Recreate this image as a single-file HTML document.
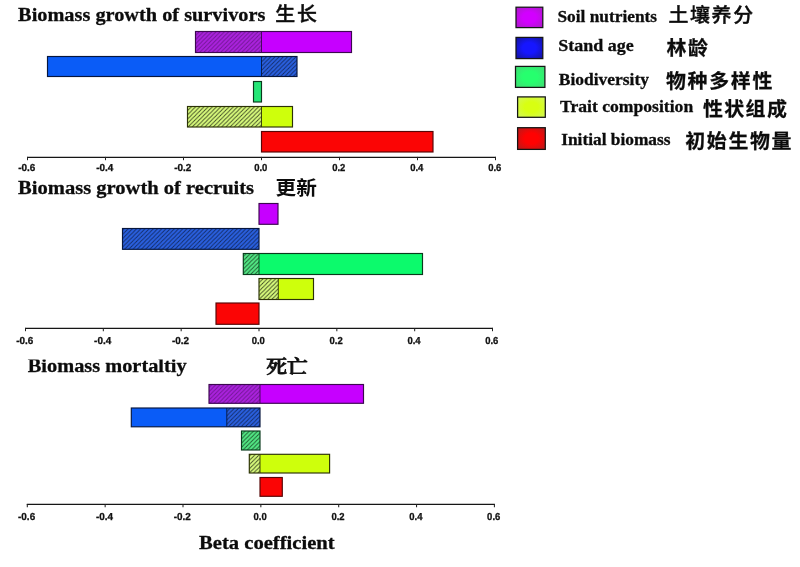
<!DOCTYPE html>
<html lang="en"><head><meta charset="utf-8"><title>Beta coefficients</title>
<style>html,body{margin:0;padding:0;background:#fff}body{width:800px;height:567px;overflow:hidden}svg{display:block}.t{font-family:"Liberation Serif","Noto Serif CJK SC",serif;font-weight:700;fill:#0c0c0c;stroke:#0c0c0c;stroke-width:0.3px}.c{font-family:"Liberation Sans","Noto Sans CJK SC",sans-serif;font-weight:700;fill:#0c0c0c;stroke:#0c0c0c;stroke-width:0.25px}.k{font-family:"Liberation Sans",sans-serif;font-weight:700;font-size:10.1px;text-rendering:geometricPrecision;fill:#111;stroke:#111;stroke-width:0.3px;text-anchor:middle}</style></head><body>
<svg width="800" height="567" viewBox="0 0 800 567">
<defs>
<pattern id="hp" width="4.2" height="4.2" patternUnits="userSpaceOnUse"><path d="M-1 5.2L5.2 -1M-1 1L1 -1M3.2 5.2L5.2 3.2" stroke="#000" stroke-opacity="0.34" stroke-width="0.9" fill="none"/></pattern>
<pattern id="hb" width="4.2" height="4.2" patternUnits="userSpaceOnUse"><path d="M-1 5.2L5.2 -1M-1 1L1 -1M3.2 5.2L5.2 3.2" stroke="#000" stroke-opacity="0.55" stroke-width="0.9" fill="none"/></pattern>
<pattern id="hg" width="4.2" height="4.2" patternUnits="userSpaceOnUse"><path d="M-1 5.2L5.2 -1M-1 1L1 -1M3.2 5.2L5.2 3.2" stroke="#000" stroke-opacity="0.62" stroke-width="0.9" fill="none"/></pattern>
<pattern id="hy" width="4.2" height="4.2" patternUnits="userSpaceOnUse"><path d="M-1 5.2L5.2 -1M-1 1L1 -1M3.2 5.2L5.2 3.2" stroke="#000" stroke-opacity="0.7" stroke-width="0.9" fill="none"/></pattern>
<radialGradient id="gp" cx="0.5" cy="0.5" r="0.72"><stop offset="0" stop-color="#d200ff"/><stop offset="0.35" stop-color="#d200ff"/><stop offset="1" stop-color="#a61ec0"/></radialGradient>
<radialGradient id="gb" cx="0.5" cy="0.5" r="0.72"><stop offset="0" stop-color="#1616ff"/><stop offset="0.35" stop-color="#1616ff"/><stop offset="1" stop-color="#141490"/></radialGradient>
<radialGradient id="gg" cx="0.5" cy="0.5" r="0.72"><stop offset="0" stop-color="#26ff6e"/><stop offset="0.35" stop-color="#26ff6e"/><stop offset="1" stop-color="#44d874"/></radialGradient>
<radialGradient id="gy" cx="0.5" cy="0.5" r="0.72"><stop offset="0" stop-color="#d8ff12"/><stop offset="0.35" stop-color="#d8ff12"/><stop offset="1" stop-color="#d2f660"/></radialGradient>
<radialGradient id="gr" cx="0.5" cy="0.5" r="0.72"><stop offset="0" stop-color="#ff0202"/><stop offset="0.35" stop-color="#ff0202"/><stop offset="1" stop-color="#b01c1c"/></radialGradient>
</defs>
<rect width="800" height="567" fill="#fff"/>
<rect x="195.5" y="31.5" width="156.0" height="21.0" fill="#c600ff"/>
<rect x="195.5" y="31.5" width="66.0" height="21.0" fill="#ab22de"/>
<rect x="195.5" y="31.5" width="66.0" height="21.0" fill="url(#hp)"/>
<path d="M261.5 31.5V52.5" stroke="#3c0850" stroke-width="0.9"/>
<rect x="195.5" y="31.5" width="156.0" height="21.0" fill="none" stroke="#3c0850" stroke-width="1.15"/>
<rect x="47.5" y="56.5" width="249.5" height="20.0" fill="#0a5cf7"/>
<rect x="261.5" y="56.5" width="35.5" height="20.0" fill="#2a60e0"/>
<rect x="261.5" y="56.5" width="35.5" height="20.0" fill="url(#hb)"/>
<path d="M261.5 56.5V76.5" stroke="#06163e" stroke-width="0.9"/>
<rect x="47.5" y="56.5" width="249.5" height="20.0" fill="none" stroke="#06163e" stroke-width="1.15"/>
<rect x="253.5" y="81.5" width="8.0" height="20.5" fill="#24e676"/>
<rect x="253.5" y="81.5" width="8.0" height="20.5" fill="none" stroke="#0a3a1c" stroke-width="1.15"/>
<rect x="187.5" y="106.5" width="105.0" height="20.5" fill="#ceff0c"/>
<rect x="187.5" y="106.5" width="74.0" height="20.5" fill="#d8fb7c"/>
<rect x="187.5" y="106.5" width="74.0" height="20.5" fill="url(#hy)"/>
<path d="M261.5 106.5V127" stroke="#2c3206" stroke-width="0.9"/>
<rect x="187.5" y="106.5" width="105.0" height="20.5" fill="none" stroke="#2c3206" stroke-width="1.15"/>
<rect x="261.5" y="131.5" width="171.5" height="20.5" fill="#fb0505"/>
<rect x="261.5" y="131.5" width="171.5" height="20.5" fill="none" stroke="#560606" stroke-width="1.15"/>
<path d="M27.0 157.3H496.0" stroke="#161616" stroke-width="1.25" fill="none"/>
<path d="M27.50 156.9V160.2" stroke="#202020" stroke-width="1.05" fill="none"/>
<text class="k" transform="matrix(1 0 0 1 26.80 171.20000000000002)" x="0" y="0" textLength="17.1" lengthAdjust="spacingAndGlyphs">-0.6</text>
<path d="M105.50 156.9V160.2" stroke="#202020" stroke-width="1.05" fill="none"/>
<text class="k" transform="matrix(1 0 0 1 104.80 171.20000000000002)" x="0" y="0" textLength="17.1" lengthAdjust="spacingAndGlyphs">-0.4</text>
<path d="M183.50 156.9V160.2" stroke="#202020" stroke-width="1.05" fill="none"/>
<text class="k" transform="matrix(1 0 0 1 182.80 171.20000000000002)" x="0" y="0" textLength="17.1" lengthAdjust="spacingAndGlyphs">-0.2</text>
<path d="M261.50 156.9V160.2" stroke="#202020" stroke-width="1.05" fill="none"/>
<text class="k" transform="matrix(1 0 0 1 260.80 171.20000000000002)" x="0" y="0" textLength="13.2" lengthAdjust="spacingAndGlyphs">0.0</text>
<path d="M339.50 156.9V160.2" stroke="#202020" stroke-width="1.05" fill="none"/>
<text class="k" transform="matrix(1 0 0 1 338.80 171.20000000000002)" x="0" y="0" textLength="13.2" lengthAdjust="spacingAndGlyphs">0.2</text>
<path d="M417.50 156.9V160.2" stroke="#202020" stroke-width="1.05" fill="none"/>
<text class="k" transform="matrix(1 0 0 1 416.80 171.20000000000002)" x="0" y="0" textLength="13.2" lengthAdjust="spacingAndGlyphs">0.4</text>
<path d="M495.50 156.9V160.2" stroke="#202020" stroke-width="1.05" fill="none"/>
<text class="k" transform="matrix(1 0 0 1 494.80 171.20000000000002)" x="0" y="0" textLength="13.2" lengthAdjust="spacingAndGlyphs">0.6</text>
<rect x="259" y="203.5" width="19" height="20.80000000000001" fill="#c600ff"/>
<rect x="259" y="203.5" width="19" height="20.80000000000001" fill="none" stroke="#3c0850" stroke-width="1.15"/>
<rect x="122.5" y="228.5" width="136.5" height="20.80000000000001" fill="#0a5cf7"/>
<rect x="122.5" y="228.5" width="136.5" height="20.80000000000001" fill="#2a60e0"/>
<rect x="122.5" y="228.5" width="136.5" height="20.80000000000001" fill="url(#hb)"/>
<rect x="122.5" y="228.5" width="136.5" height="20.80000000000001" fill="none" stroke="#06163e" stroke-width="1.15"/>
<rect x="243.3" y="253.5" width="179.2" height="21.0" fill="#0cfa6c"/>
<rect x="243.3" y="253.5" width="15.699999999999989" height="21.0" fill="#52e884"/>
<rect x="243.3" y="253.5" width="15.699999999999989" height="21.0" fill="url(#hg)"/>
<path d="M259 253.5V274.5" stroke="#0a3a1c" stroke-width="0.9"/>
<rect x="243.3" y="253.5" width="179.2" height="21.0" fill="none" stroke="#0a3a1c" stroke-width="1.15"/>
<rect x="259" y="278.5" width="54.5" height="21.0" fill="#ceff0c"/>
<rect x="259" y="278.5" width="19.30000000000001" height="21.0" fill="#d8fb7c"/>
<rect x="259" y="278.5" width="19.30000000000001" height="21.0" fill="url(#hy)"/>
<path d="M278.3 278.5V299.5" stroke="#2c3206" stroke-width="0.9"/>
<rect x="259" y="278.5" width="54.5" height="21.0" fill="none" stroke="#2c3206" stroke-width="1.15"/>
<rect x="216" y="303" width="43" height="21.30000000000001" fill="#fb0505"/>
<rect x="216" y="303" width="43" height="21.30000000000001" fill="none" stroke="#560606" stroke-width="1.15"/>
<path d="M25.0 328.3H493.0" stroke="#161616" stroke-width="1.25" fill="none"/>
<path d="M25.50 327.9V331.2" stroke="#202020" stroke-width="1.05" fill="none"/>
<text class="k" transform="matrix(1 0 0 1 24.80 343.59999999999997)" x="0" y="0" textLength="17.1" lengthAdjust="spacingAndGlyphs">-0.6</text>
<path d="M103.33 327.9V331.2" stroke="#202020" stroke-width="1.05" fill="none"/>
<text class="k" transform="matrix(1 0 0 1 102.63 343.59999999999997)" x="0" y="0" textLength="17.1" lengthAdjust="spacingAndGlyphs">-0.4</text>
<path d="M181.17 327.9V331.2" stroke="#202020" stroke-width="1.05" fill="none"/>
<text class="k" transform="matrix(1 0 0 1 180.47 343.59999999999997)" x="0" y="0" textLength="17.1" lengthAdjust="spacingAndGlyphs">-0.2</text>
<path d="M259.00 327.9V331.2" stroke="#202020" stroke-width="1.05" fill="none"/>
<text class="k" transform="matrix(1 0 0 1 258.30 343.59999999999997)" x="0" y="0" textLength="13.2" lengthAdjust="spacingAndGlyphs">0.0</text>
<path d="M336.83 327.9V331.2" stroke="#202020" stroke-width="1.05" fill="none"/>
<text class="k" transform="matrix(1 0 0 1 336.13 343.59999999999997)" x="0" y="0" textLength="13.2" lengthAdjust="spacingAndGlyphs">0.2</text>
<path d="M414.67 327.9V331.2" stroke="#202020" stroke-width="1.05" fill="none"/>
<text class="k" transform="matrix(1 0 0 1 413.97 343.59999999999997)" x="0" y="0" textLength="13.2" lengthAdjust="spacingAndGlyphs">0.4</text>
<path d="M492.50 327.9V331.2" stroke="#202020" stroke-width="1.05" fill="none"/>
<text class="k" transform="matrix(1 0 0 1 491.80 343.59999999999997)" x="0" y="0" textLength="13.2" lengthAdjust="spacingAndGlyphs">0.6</text>
<rect x="209" y="384.5" width="154.5" height="18.80000000000001" fill="#c600ff"/>
<rect x="209" y="384.5" width="51.0" height="18.80000000000001" fill="#ab22de"/>
<rect x="209" y="384.5" width="51.0" height="18.80000000000001" fill="url(#hp)"/>
<path d="M260.0 384.5V403.3" stroke="#3c0850" stroke-width="0.9"/>
<rect x="209" y="384.5" width="154.5" height="18.80000000000001" fill="none" stroke="#3c0850" stroke-width="1.15"/>
<rect x="131.3" y="408" width="128.7" height="18.80000000000001" fill="#0a5cf7"/>
<rect x="226.8" y="408" width="33.19999999999999" height="18.80000000000001" fill="#2a60e0"/>
<rect x="226.8" y="408" width="33.19999999999999" height="18.80000000000001" fill="url(#hb)"/>
<path d="M226.8 408V426.8" stroke="#06163e" stroke-width="0.9"/>
<rect x="131.3" y="408" width="128.7" height="18.80000000000001" fill="none" stroke="#06163e" stroke-width="1.15"/>
<rect x="241.5" y="431" width="18.5" height="19" fill="#0cfa6c"/>
<rect x="241.5" y="431" width="18.5" height="19" fill="#52e884"/>
<rect x="241.5" y="431" width="18.5" height="19" fill="url(#hg)"/>
<rect x="241.5" y="431" width="18.5" height="19" fill="none" stroke="#0a3a1c" stroke-width="1.15"/>
<rect x="249.3" y="454.3" width="80.30000000000001" height="18.69999999999999" fill="#ceff0c"/>
<rect x="249.3" y="454.3" width="10.699999999999989" height="18.69999999999999" fill="#d8fb7c"/>
<rect x="249.3" y="454.3" width="10.699999999999989" height="18.69999999999999" fill="url(#hy)"/>
<path d="M260.0 454.3V473" stroke="#2c3206" stroke-width="0.9"/>
<rect x="249.3" y="454.3" width="80.30000000000001" height="18.69999999999999" fill="none" stroke="#2c3206" stroke-width="1.15"/>
<rect x="260.0" y="477.5" width="22.30000000000001" height="18.80000000000001" fill="#fb0505"/>
<rect x="260.0" y="477.5" width="22.30000000000001" height="18.80000000000001" fill="none" stroke="#560606" stroke-width="1.15"/>
<path d="M26.8 504.3H494.9" stroke="#161616" stroke-width="1.25" fill="none"/>
<path d="M27.30 503.9V507.2" stroke="#202020" stroke-width="1.05" fill="none"/>
<text class="k" transform="matrix(1 0 0 1 26.60 519.5)" x="0" y="0" textLength="17.1" lengthAdjust="spacingAndGlyphs">-0.6</text>
<path d="M105.15 503.9V507.2" stroke="#202020" stroke-width="1.05" fill="none"/>
<text class="k" transform="matrix(1 0 0 1 104.45 519.5)" x="0" y="0" textLength="17.1" lengthAdjust="spacingAndGlyphs">-0.4</text>
<path d="M183.00 503.9V507.2" stroke="#202020" stroke-width="1.05" fill="none"/>
<text class="k" transform="matrix(1 0 0 1 182.30 519.5)" x="0" y="0" textLength="17.1" lengthAdjust="spacingAndGlyphs">-0.2</text>
<path d="M260.85 503.9V507.2" stroke="#202020" stroke-width="1.05" fill="none"/>
<text class="k" transform="matrix(1 0 0 1 260.15 519.5)" x="0" y="0" textLength="13.2" lengthAdjust="spacingAndGlyphs">0.0</text>
<path d="M338.70 503.9V507.2" stroke="#202020" stroke-width="1.05" fill="none"/>
<text class="k" transform="matrix(1 0 0 1 338.00 519.5)" x="0" y="0" textLength="13.2" lengthAdjust="spacingAndGlyphs">0.2</text>
<path d="M416.55 503.9V507.2" stroke="#202020" stroke-width="1.05" fill="none"/>
<text class="k" transform="matrix(1 0 0 1 415.85 519.5)" x="0" y="0" textLength="13.2" lengthAdjust="spacingAndGlyphs">0.4</text>
<path d="M494.40 503.9V507.2" stroke="#202020" stroke-width="1.05" fill="none"/>
<text class="k" transform="matrix(1 0 0 1 493.70 519.5)" x="0" y="0" textLength="13.2" lengthAdjust="spacingAndGlyphs">0.6</text>
<text class="t" x="18.1" y="20.6" font-size="19.8" textLength="247.3" lengthAdjust="spacingAndGlyphs">Biomass growth of survivors</text>
<text class="c" transform="matrix(1.06 0 0 1 275.2 21.1)" x="0.00 20.47" y="0" font-size="18.8" style="font-weight:500;stroke-width:0.45px">生长</text>
<text class="t" x="18.1" y="194.3" font-size="19.8" textLength="236" lengthAdjust="spacingAndGlyphs">Biomass growth of recruits</text>
<text class="c" x="275.5" y="195.2" font-size="19.6" textLength="41.3" lengthAdjust="spacingAndGlyphs" style="stroke-width:0">更新</text>
<text class="t" x="27.8" y="371.8" font-size="19.8" textLength="158.8" lengthAdjust="spacingAndGlyphs">Biomass mortaltiy</text>
<text class="c" x="266.3" y="373" font-size="18.3" textLength="41.5" lengthAdjust="spacingAndGlyphs" style="font-family:'Liberation Serif','Noto Serif CJK SC',serif;font-weight:600;stroke:#111;stroke-width:0.8px">死亡</text>
<rect x="20" y="350" width="180" height="9.5" fill="#fff"/>
<text class="t" x="199" y="549.1" font-size="19.8" textLength="135.7" lengthAdjust="spacingAndGlyphs">Beta coefficient</text>
<rect x="516" y="7.2" width="26.799999999999955" height="20.400000000000002" fill="url(#gp)" stroke="#141414" stroke-width="1.25"/>
<rect x="516" y="37.4" width="26.799999999999955" height="21.200000000000003" fill="url(#gb)" stroke="#141414" stroke-width="1.25"/>
<rect x="515.5" y="66.4" width="29.399999999999977" height="21.0" fill="url(#gg)" stroke="#141414" stroke-width="1.25"/>
<rect x="517.6" y="96.9" width="27.699999999999932" height="20.39999999999999" fill="url(#gy)" stroke="#141414" stroke-width="1.25"/>
<rect x="517.6" y="127.7" width="27.699999999999932" height="21.700000000000003" fill="url(#gr)" stroke="#141414" stroke-width="1.25"/>
<text class="t" x="557.5" y="21.8" font-size="17.3" textLength="99.5" lengthAdjust="spacingAndGlyphs">Soil nutrients</text>
<text class="c" transform="matrix(1.06 0 0 1 668.5 22.0)" x="0.00 20.33 40.66 60.99" y="0" font-size="18.8" style="font-weight:500;stroke-width:0.4px">土壤养分</text>
<text class="t" x="558.3" y="51" font-size="17.3" textLength="75.5" lengthAdjust="spacingAndGlyphs">Stand age</text>
<text class="c" transform="matrix(1.06 0 0 1 666.6 55.0)" x="0.00 20.28" y="0" font-size="18.8">林龄</text>
<text class="t" x="558.8" y="84.6" font-size="17.3" textLength="90.2" lengthAdjust="spacingAndGlyphs">Biodiversity</text>
<text class="c" transform="matrix(1.06 0 0 1 666.0 88.0)" x="0.00 20.38 40.75 61.13 81.51" y="0" font-size="18.8">物种多样性</text>
<text class="t" x="560" y="112" font-size="17.3" textLength="133.2" lengthAdjust="spacingAndGlyphs">Trait composition</text>
<text class="c" transform="matrix(1.06 0 0 1 703.0 115.5)" x="0.00 20.09 40.19 60.28" y="0" font-size="18.8">性状组成</text>
<text class="t" x="561.2" y="144.5" font-size="17.3" textLength="109.3" lengthAdjust="spacingAndGlyphs">Initial biomass</text>
<text class="c" transform="matrix(1.06 0 0 1 685.3 148.2)" x="0.00 20.33 40.66 60.99 81.32" y="0" font-size="18.8">初始生物量</text>
</svg></body></html>
